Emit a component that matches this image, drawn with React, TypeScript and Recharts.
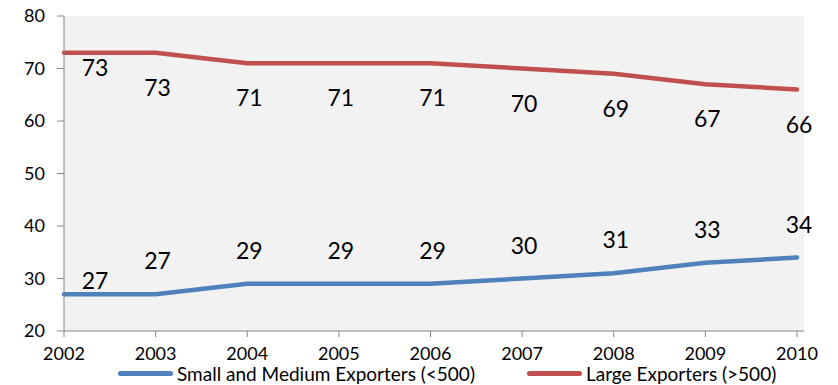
import { LineChart, Line, XAxis, YAxis, CartesianGrid, LabelList } from 'recharts';

const years = ['2002', '2003', '2004', '2005', '2006', '2007', '2008', '2009', '2010'];
const smallMedium = [27, 27, 29, 29, 29, 30, 31, 33, 34];
const large = [73, 73, 71, 71, 71, 70, 69, 67, 66];
const yTicks = [20, 30, 40, 50, 60, 70, 80];

const SERIES = [
  { key: 'small', name: 'Small and Medium Exporters (<500)', color: '#4f81bd', above: true },
  { key: 'large', name: 'Large Exporters (>500)', color: '#c0504d', above: false },
];

const data = years.map((year, i) => ({ year, small: smallMedium[i], large: large[i] }));

const FONT = 'Lato, "Open Sans", sans-serif';
const AXIS = '#868686';

function makeLabel(above: boolean) {
  return (props: any) => {
    const { x, y, value, index } = props;
    const first = index === 0;
    const dx = first ? 31 : 2;
    const dy = first ? 14 : 34;
    return (
      <text
        x={x + dx}
        y={above ? y - dy : y + dy}
        textAnchor="middle"
        dominantBaseline="central"
        fontSize={23}
        fontFamily={FONT}
        fill="#000"
      >
        {value}
      </text>
    );
  };
}

export default function App() {
  document.body.style.margin = '0';
  return (
    <div style={{ position: 'relative', width: 838, height: 385, background: '#fff', fontFamily: FONT }}>
      <LineChart width={838} height={385} data={data} margin={{ top: 16, right: 34, bottom: 0, left: 0 }}>
        <CartesianGrid fill="#f2f2f2" horizontal={false} vertical={false} />
        <XAxis
          dataKey="year"
          stroke={AXIS}
          tickSize={6}
          tickMargin={10}
          height={54}
          interval={0}
          padding={{ left: 0, right: 7 }}
          tick={{ fill: '#000', fontSize: 18, fontFamily: FONT }}
        />
        <YAxis
          domain={[20, 80]}
          ticks={yTicks}
          stroke={AXIS}
          width={64}
          tickSize={7}
          tickMargin={12}
          tick={{ fill: '#000', fontSize: 18, fontFamily: FONT }}
        />
        {SERIES.map((s) => (
          <Line
            key={s.key}
            dataKey={s.key}
            name={s.name}
            type="linear"
            stroke={s.color}
            strokeWidth={4.5}
            strokeLinejoin="round"
            strokeLinecap="round"
            dot={false}
            isAnimationActive={false}
          >
            <LabelList dataKey={s.key} content={makeLabel(s.above)} />
          </Line>
        ))}
      </LineChart>
      <div
        style={{
          position: 'absolute',
          top: 362,
          left: 118,
          display: 'flex',
          gap: 52,
          fontSize: 19,
          lineHeight: '23px',
          color: '#000',
        }}
      >
        {SERIES.map((s) => (
          <div key={s.key} style={{ display: 'flex', alignItems: 'center' }}>
            <span style={{ display: 'inline-block', width: 55, height: 5, borderRadius: 3, background: s.color, marginRight: 4 }} />
            <span>{s.name}</span>
          </div>
        ))}
      </div>
    </div>
  );
}
